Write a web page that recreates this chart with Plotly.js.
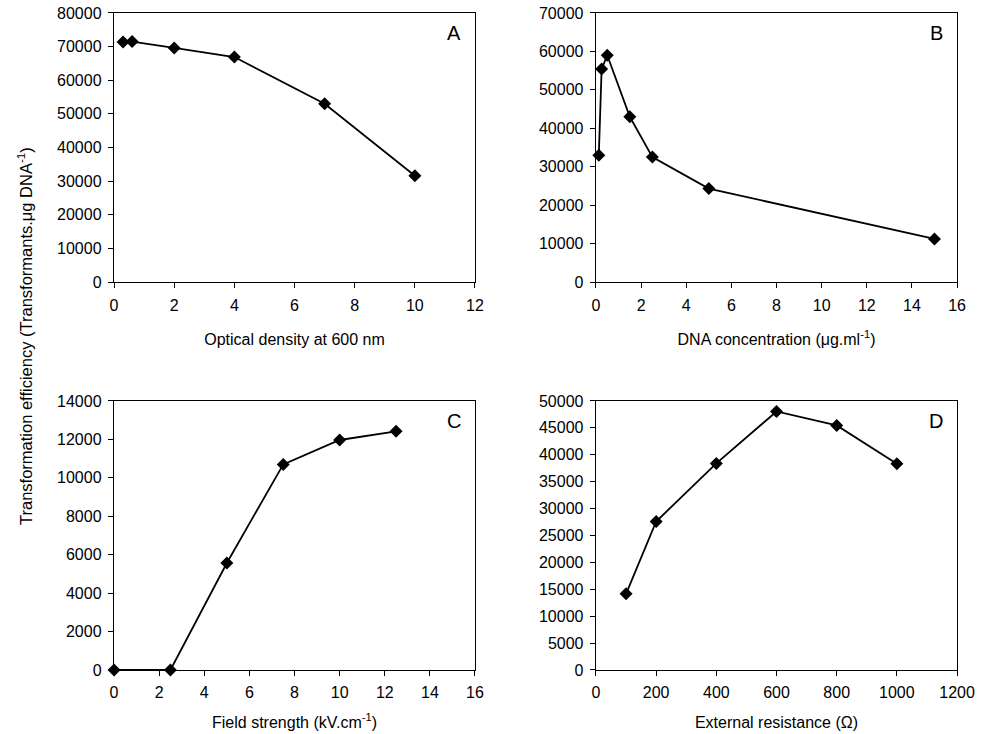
<!DOCTYPE html>
<html>
<head>
<meta charset="utf-8">
<script src="https://cdn.plot.ly/plotly-3.0.1.min.js"></script>
<style>html,body{margin:0;padding:0;background:#fff;}#chart{width:990px;height:734px;}</style>
</head>
<body>
<div id="chart"></div>
<script>
// Panel A: optical density
const odX = [0.3, 0.6, 2, 4, 7, 10];
const odY = [71400, 71500, 69600, 66900, 53000, 31600];
// Panel B: DNA concentration
const dnaX = [0.125, 0.25, 0.5, 1.5, 2.5, 5, 15];
const dnaY = [33000, 55400, 59000, 43000, 32500, 24300, 11200];
// Panel C: field strength
const fieldX = [0, 2.5, 5, 7.5, 10, 12.5];
const fieldY = [0, 0, 5570, 10700, 11970, 12420];
// Panel D: external resistance
const resX = [100, 200, 400, 600, 800, 1000];
const resY = [14150, 27600, 38400, 48050, 45450, 38350];

const panelLabels = ['A', 'B', 'C', 'D'];
const xTitles = ['Optical density at 600 nm', 'DNA concentration (μg.ml<sup>-1</sup>)',
                 'Field strength (kV.cm<sup>-1</sup>)', 'External resistance (Ω)'];
const yTitle = 'Transformation efficiency (Transformants.μg DNA<sup>-1</sup>)';

const font = {family: 'Liberation Sans, Arial, sans-serif', size: 16, color: '#000'};

function tr(x, y, xa, ya) {
  return {x: x, y: y, xaxis: xa, yaxis: ya, type: 'scatter', mode: 'lines+markers',
    line: {color: '#000', width: 1.8}, marker: {symbol: 'diamond', size: 10, color: '#000'},
    cliponaxis: false, showlegend: false};
}
const data = [
  tr(odX, odY, 'x', 'y'),
  tr(dnaX, dnaY, 'x2', 'y2'),
  tr(fieldX, fieldY, 'x3', 'y3'),
  tr(resX, resY, 'x4', 'y4')
];

const L = [0.1152, 0.4798], R = [0.602, 0.9667];
const T = [0.6158, 0.9823], B = [0.0872, 0.4537];

function xa(dom, anchor, range, dtick, title, standoff) {
  return {domain: dom, anchor: anchor, range: range, dtick: dtick, tick0: 0,
    showline: true, mirror: true, linecolor: '#000', linewidth: 1.3,
    ticks: 'outside', ticklen: 5, tickcolor: '#000', showgrid: false, zeroline: false,
    tickfont: font, tickformat: 'd', ticklabelstandoff: 3,
    title: {text: title, font: font, standoff: standoff}, automargin: false, fixedrange: true};
}
function ya(dom, anchor, range, dtick) {
  return {domain: dom, anchor: anchor, range: range, dtick: dtick, tick0: 0,
    showline: true, mirror: true, linecolor: '#000', linewidth: 1.3,
    ticks: 'outside', ticklen: 5, tickcolor: '#000', showgrid: false, zeroline: false,
    tickfont: font, tickformat: 'd', ticklabelstandoff: 3, automargin: false, fixedrange: true};
}

const lblFont = {family: font.family, size: 20, color: '#000'};
function lbl(i, xr, yr) {
  return {text: panelLabels[i], xref: xr + ' domain', yref: yr + ' domain', x: 0.943, y: 0.925,
    xanchor: 'center', yanchor: 'middle', showarrow: false, font: lblFont};
}

const layout = {
  width: 990, height: 734,
  margin: {l: 0, r: 0, t: 0, b: 0},
  paper_bgcolor: '#fff', plot_bgcolor: '#fff',
  font: font,
  xaxis: xa(L, 'y', [0, 12], 2, xTitles[0], 21),
  yaxis: ya(T, 'x', [0, 80000], 10000),
  xaxis2: xa(R, 'y2', [0, 16], 2, xTitles[1], 21),
  yaxis2: ya(T, 'x2', [0, 70000], 10000),
  xaxis3: xa(L, 'y3', [0, 16], 2, xTitles[2], 16),
  yaxis3: ya(B, 'x3', [0, 14000], 2000),
  xaxis4: xa(R, 'y4', [0, 1200], 200, xTitles[3], 16),
  yaxis4: ya(B, 'x4', [0, 50000], 5000),
  annotations: [
    lbl(0, 'x', 'y'), lbl(1, 'x2', 'y2'), lbl(2, 'x3', 'y3'), lbl(3, 'x4', 'y4'),
    {text: yTitle, xref: 'paper', yref: 'paper', x: 25/990, y: 1 - 336/734, textangle: -90, showarrow: false,
     font: {family: font.family, size: 16.5, color: '#000'}, xanchor: 'center', yanchor: 'middle'}
  ]
};

Plotly.newPlot('chart', data, layout, {displayModeBar: false, staticPlot: true});
</script>
</body>
</html>
